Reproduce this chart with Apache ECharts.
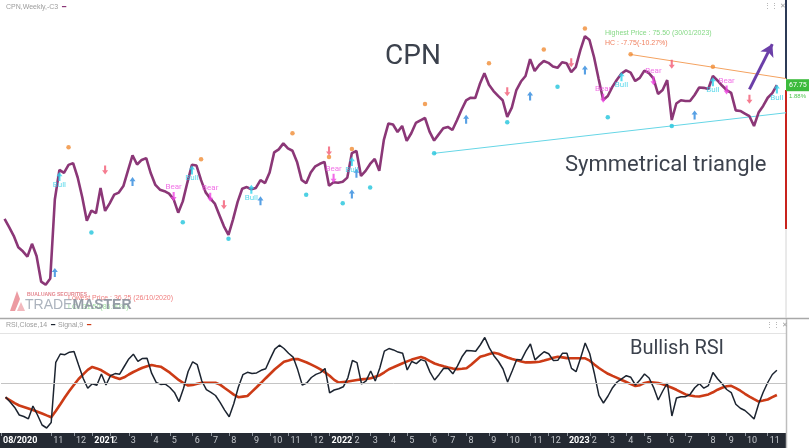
<!DOCTYPE html>
<html>
<head>
<meta charset="utf-8">
<script src="https://cdn.jsdelivr.net/npm/echarts@6/dist/echarts.min.js"></script>
<style>
html, body { margin: 0; padding: 0; background: #fff; }
#chart { width: 809px; height: 448px; }
</style>
</head>
<body>
<div id="chart"></div>
<script>
// weekly bars, first category is 2020-08-14
const weeks = []
for (let i = 0; i < 173; i++) {
  const d = new Date(Date.UTC(2020, 7, 14 + i * 7))
  weeks.push(d.toISOString().slice(0, 10))
}

// CPN weekly close, weeks 1..170
const price = [
  46.65, 45.33, 43.97, 42.16, 41.53, 40.68, 42.71, 40.79, 36.75, 36.25,
  37.23, 49.70, 54.38, 53.91, 55.17, 55.45, 53.18, 50.07, 46.34, 47.95,
  47.54, 51.54, 47.91, 49.10, 50.47, 50.80, 51.82, 54.28, 56.66, 55.23,
  55.95, 56.24, 53.84, 52.01, 51.26, 51.02, 50.64, 49.73, 47.63, 49.41,
  52.38, 55.18, 55.07, 52.76, 50.83, 49.89, 49.07, 47.27, 45.47, 44.13,
  46.57, 49.33, 51.41, 51.67, 51.32, 51.54, 52.76, 52.30, 53.98, 57.14,
  57.62, 58.57, 57.77, 57.40, 55.64, 52.80, 52.28, 53.98, 54.95, 55.34,
  55.65, 51.86, 52.44, 52.35, 52.52, 53.16, 57.03, 57.37, 53.43, 54.22,
  55.32, 56.11, 54.22, 59.11, 61.71, 61.55, 60.37, 61.31, 58.95, 60.17,
  61.79, 62.21, 62.57, 60.42, 59.01, 59.99, 60.95, 61.17, 60.68, 62.21,
  63.88, 65.35, 65.77, 65.73, 67.93, 69.62, 67.82, 66.83, 66.07, 65.37,
  62.75, 64.21, 66.99, 68.33, 69.20, 71.87, 69.98, 70.93, 71.56, 71.28,
  70.69, 70.49, 71.37, 71.21, 69.83, 70.61, 73.29, 75.50, 74.87, 72.16,
  68.72, 65.41, 66.04, 67.49, 68.61, 69.59, 70.08, 69.73, 68.41, 68.90,
  70.06, 69.65, 68.83, 66.36, 66.99, 68.56, 62.26, 64.86, 65.37, 65.26,
  65.26, 66.20, 67.38, 67.33, 67.15, 69.20, 68.50, 67.70, 66.99, 66.55,
  63.77, 63.68, 63.28, 62.86, 61.31, 63.43, 64.48, 65.77, 66.50, 67.75
]

// RSI(14) and its signal(9), weeks 1..170
const rsi = [
  42.44, 39.79, 36.82, 32.72, 31.91, 30.67, 37.58, 32.72, 27.32, 25.70,
  28.67, 61.18, 65.66, 65.28, 66.63, 67.01, 59.72, 52.54, 47.14, 49.62,
  48.76, 54.86, 48.92, 54.00, 55.08, 54.75, 58.91, 63.01, 65.55, 61.66,
  63.28, 63.39, 55.29, 50.32, 49.24, 49.41, 47.57, 44.92, 39.96, 47.19,
  56.21, 61.45, 59.88, 51.08, 46.44, 44.98, 43.25, 39.58, 35.37, 31.80,
  38.77, 47.73, 54.48, 55.78, 55.13, 55.45, 56.86, 57.67, 63.18, 68.31,
  70.41, 68.63, 66.04, 63.99, 57.24, 48.92, 50.00, 52.97, 54.64, 55.62,
  57.83, 44.71, 46.22, 46.87, 47.95, 52.81, 62.15, 61.00, 49.46, 51.13,
  56.48, 51.08, 58.10, 67.23, 68.58, 67.87, 66.69, 66.04, 57.02, 61.61,
  60.48, 62.64, 61.83, 55.89, 51.62, 54.64, 57.94, 57.78, 54.97, 59.13,
  64.15, 67.55, 67.44, 67.12, 70.52, 74.57, 68.95, 64.74, 61.61, 57.56,
  50.54, 56.48, 62.74, 62.37, 67.20, 71.06, 62.50, 64.80, 66.90, 65.77,
  62.20, 62.26, 66.04, 66.04, 57.88, 56.10, 63.50, 71.60, 65.77, 55.29,
  43.36, 39.20, 42.98, 47.46, 50.54, 52.27, 53.94, 53.08, 48.92, 51.62,
  54.86, 52.70, 47.52, 40.82, 45.68, 50.00, 32.18, 41.90, 42.60, 42.60,
  43.90, 47.41, 49.68, 47.19, 48.60, 55.67, 52.32, 49.57, 46.49, 44.82,
  38.55, 36.34, 35.15, 32.99, 30.56, 38.66, 44.98, 50.27, 54.59, 56.86
]
const signal = [
  42.17, 40.66, 39.15, 37.85, 37.04, 36.23, 35.37, 34.50, 33.53, 32.50,
  31.48, 34.93, 38.55, 42.28, 45.79, 49.03, 52.16, 54.64, 57.07, 58.69,
  57.88, 56.86, 55.35, 53.89, 53.02, 52.21, 53.08, 54.59, 55.94, 57.13,
  58.26, 59.07, 59.67, 59.23, 58.80, 57.18, 55.56, 53.56, 51.51, 49.95,
  48.65, 48.92, 49.62, 50.16, 50.16, 50.16, 50.16, 49.14, 47.30, 45.52,
  43.74, 42.33, 42.66, 42.98, 45.36, 47.73, 50.11, 52.59, 55.02, 57.40,
  59.45, 61.50, 62.20, 62.91, 62.91, 61.99, 61.07, 59.88, 58.69, 57.34,
  55.72, 53.94, 51.67, 50.22, 50.49, 50.76, 51.19, 51.62, 51.94, 52.21,
  52.59, 53.40, 54.21, 55.78, 57.45, 58.48, 59.56, 60.64, 61.66, 62.64,
  63.34, 63.99, 63.18, 61.77, 60.53, 59.77, 59.07, 58.42, 57.78, 57.51,
  57.72, 57.94, 59.83, 61.99, 64.15, 64.90, 65.66, 66.36, 65.82, 64.74,
  63.82, 62.96, 62.26, 61.66, 61.12, 61.12, 61.29, 61.45, 62.10, 62.85,
  63.61, 64.15, 63.82, 63.45, 63.34, 63.34, 63.34, 63.34, 62.04, 59.99,
  58.10, 56.48, 54.97, 53.83, 52.75, 51.62, 50.54, 49.41, 48.33, 48.81,
  50.05, 50.54, 50.27, 49.95, 49.30, 48.38, 47.46, 46.33, 45.09, 43.84,
  43.25, 42.87, 42.71, 43.30, 43.84, 44.98, 46.38, 47.46, 48.22, 48.49,
  47.25, 45.84, 44.17, 42.66, 41.25, 39.96, 40.50, 41.09, 42.33, 43.52
]

// signal marks: [week index, price]
const swingHigh = [[15, 57.95], [44, 56.07], [64, 60.16], [72, 56.43], [77, 57.69], [93, 64.78], [107, 71.2], [119, 73.4], [128, 76.71], [138, 72.62], [156, 70.66]]
const swingLow = [[20, 44.5], [40, 46.13], [50, 43.5], [67, 50.44], [75, 49.13], [81, 51.59], [95, 57.01], [111, 61.9], [122, 67.51], [133, 62.69], [147, 61.31]]
const buyArrow = [[12, 38.19], [29, 52.53], [57, 49.49], [77, 50.59], [78, 53.86], [102, 62.37], [116, 66.04], [128, 70.14], [152, 63.05]]
const sellArrow = [[23, 54.38], [49, 48.86], [72, 57.37], [111, 66.72], [125, 71.29], [147, 71.04], [164, 65.52]]
const bullSignal = [[13, 53.32], [42, 54.38], [55, 51.34], [77, 55.69], [136, 69.09], [156, 68.3], [170, 67.15]]
const bearSignal = [[38, 50.17], [46, 50.07], [73, 53.07], [132, 65.68], [143, 68.45], [159, 66.99]]

// triangle lines and breakout arrow
const supportLine = [[95, 57.0], [172, 63.4]]
const resistLine = [[138, 72.6], [172, 68.8]]
const breakoutArrow = [[164, 67.1], [169, 74.24]]

const lastPrice = price[price.length - 1]
const lastChange = ((lastPrice / price[price.length - 2] - 1) * 100).toFixed(2)

const upArrow = 'path://M4,0L8,4.5L5.4,4.5L5.4,10L2.6,10L2.6,4.5L0,4.5Z'
const downArrow = 'path://M2.6,0L5.4,0L5.4,5.5L8,5.5L4,10L0,5.5L2.6,5.5Z'

const DAY = 86400000
// week whose Friday is nearest to the 1st of a month (Sep/Oct 2020 left out)
function monthStart(index) {
  if (index === 0) return true
  if (index > 170) return false
  const t = Date.parse(weeks[index])
  const a = new Date(t + 3 * DAY)
  const b = new Date(t - 4 * DAY)
  if (a.getUTCMonth() === b.getUTCMonth()) return false
  const ym = a.toISOString().slice(0, 7)
  return ym !== '2020-09' && ym !== '2020-10'
}

const chart = echarts.init(document.getElementById('chart'))
chart.setOption({
  animation: false,
  textStyle: { fontFamily: 'Roboto, "Noto Sans", sans-serif' },
  grid: [
    { left: 0, right: 23, top: 0, height: 318 },
    { left: 0, right: 23, top: 333, height: 100 }
  ],
  xAxis: [
    { type: 'category', gridIndex: 0, data: weeks, boundaryGap: false, show: false },
    {
      type: 'category',
      gridIndex: 1,
      data: weeks,
      boundaryGap: false,
      axisLine: { show: false },
      axisTick: {
        show: true,
        interval: (index) => monthStart(index),
        length: 3,
        lineStyle: { color: '#8d939c' }
      },
      axisLabel: {
        interval: (index) => monthStart(index),
        align: 'left',
        margin: 3,
        padding: [0, 0, 0, 2],
        formatter: function(value, index) {
          if (index === 0) return '{y|' + value.slice(5, 7) + '/' + value.slice(0, 4) + '}'
          const a = new Date(Date.parse(value) + 3 * DAY)
          const m = a.getUTCMonth() + 1
          if (m === 1) return '{y|' + a.getUTCFullYear() + '}'
          return '{m|' + m + '}'
        },
        rich: {
          y: { color: '#ffffff', fontSize: 9, fontWeight: 'bold' },
          m: { color: '#c4c7cc', fontSize: 9 }
        }
      },
      splitLine: { show: false }
    }
  ],
  yAxis: [
    { type: 'value', gridIndex: 0, min: 31, max: 81.2, show: false },
    { type: 'value', gridIndex: 1, min: 23, max: 77, show: false }
  ],
  series: [
    {
      name: 'CPN',
      type: 'line',
      xAxisIndex: 0,
      yAxisIndex: 0,
      data: price.map((v, i) => [i + 1, v]),
      symbol: 'none',
      z: 3,
      lineStyle: { color: '#8b3777', width: 2.6 },
      markLine: {
        silent: true,
        symbol: 'none',
        lineStyle: { color: 'rgba(0,0,0,0)', width: 1 },
        label: {
          show: true,
          position: 'end',
          distance: 0,
          formatter: lastPrice.toFixed(2),
          color: '#fff',
          fontSize: 7,
          backgroundColor: '#3dbb3d',
          padding: [3, 6, 2, 3]
        },
        data: [{ yAxis: lastPrice }]
      }
    },
    {
      type: 'line',
      data: supportLine,
      symbol: 'none',
      z: 2,
      lineStyle: { color: '#66d6e6', width: 1 }
    },
    {
      type: 'line',
      data: resistLine,
      symbol: 'none',
      z: 2,
      lineStyle: { color: '#f4a260', width: 1 },
      markLine: {
        silent: true,
        symbol: ['none', 'arrow'],
        symbolSize: [11, 12],
        label: { show: false },
        lineStyle: { color: '#6b3fa8', width: 3, type: 'solid' },
        data: [[
          { coord: [weeks[breakoutArrow[0][0]], breakoutArrow[0][1]] },
          { coord: [weeks[breakoutArrow[1][0]], breakoutArrow[1][1]] }
        ]]
      }
    },
    { type: 'scatter', data: swingHigh, symbolSize: 4.5, z: 4, itemStyle: { color: '#f08c35' } },
    { type: 'scatter', data: swingLow, symbolSize: 4.5, z: 4, itemStyle: { color: '#22c4dc' } },
    { type: 'scatter', data: buyArrow, symbol: upArrow, symbolSize: [6, 9], z: 4, itemStyle: { color: '#2d88dd' } },
    { type: 'scatter', data: sellArrow, symbol: downArrow, symbolSize: [6, 9], z: 4, itemStyle: { color: '#f25b74' } },
    {
      type: 'scatter',
      data: bullSignal,
      symbol: upArrow,
      symbolSize: [6, 9],
      z: 4,
      itemStyle: { color: '#2cd5ee' },
      label: { show: true, position: 'bottom', distance: 0, formatter: 'Bull', color: '#35cfe6', fontSize: 8 }
    },
    {
      type: 'scatter',
      data: bearSignal,
      symbol: downArrow,
      symbolSize: [6, 9],
      z: 4,
      itemStyle: { color: '#ef45e2' },
      label: { show: true, position: 'top', distance: 1, formatter: 'Bear', color: '#ee4ee0', fontSize: 8 }
    },
    {
      name: 'RSI',
      type: 'line',
      xAxisIndex: 1,
      yAxisIndex: 1,
      data: rsi.map((v, i) => [i + 1, v]),
      symbol: 'none',
      z: 3,
      lineStyle: { color: '#1c2430', width: 1.5 },
      markLine: {
        silent: true,
        symbol: 'none',
        label: { show: false },
        lineStyle: { color: '#c4c4c4', width: 1, type: 'solid' },
        data: [{ yAxis: 50 }]
      }
    },
    {
      name: 'Signal',
      type: 'line',
      xAxisIndex: 1,
      yAxisIndex: 1,
      data: signal.map((v, i) => [i + 1, v]),
      symbol: 'none',
      z: 2,
      lineStyle: { color: '#cc3b16', width: 2.6 }
    }
  ],
  graphic: [
    { type: 'rect', z: -10, silent: true, shape: { x: 0, y: 433, width: 786, height: 15 }, style: { fill: '#252a33' } },
    { type: 'line', silent: true, shape: { x1: 0, y1: 318.5, x2: 809, y2: 318.5 }, style: { stroke: '#a8a8a8', lineWidth: 1.5 } },
    { type: 'line', silent: true, shape: { x1: 0, y1: 333.5, x2: 786, y2: 333.5 }, style: { stroke: '#e3e3e3', lineWidth: 1 } },
    { type: 'line', silent: true, shape: { x1: 786.5, y1: 319, x2: 786.5, y2: 448 }, style: { stroke: '#bdbdbd', lineWidth: 1.5 } },
    { type: 'line', silent: true, shape: { x1: 786, y1: 0, x2: 786, y2: 79 }, style: { stroke: '#2c3a56', lineWidth: 2 } },
    { type: 'line', silent: true, shape: { x1: 786, y1: 90, x2: 786, y2: 229 }, style: { stroke: '#c8231d', lineWidth: 2 } },
    { type: 'line', silent: true, shape: { x1: 786, y1: 229, x2: 786, y2: 318 }, style: { stroke: '#d4d4d4', lineWidth: 1 } },
    {
      type: 'text', x: 6, y: 7,
      style: {
        text: '{a|CPN,Weekly,-C3} {b|━}',
        verticalAlign: 'middle',
        rich: { a: { fill: '#9c9c9c', fontSize: 7 }, b: { fill: '#8b3777', fontSize: 7 } }
      }
    },
    { type: 'text', x: 764, y: 6, style: { text: '⋮⋮ ✕', fill: '#a0a0a0', fontSize: 7, verticalAlign: 'middle' } },
    {
      type: 'text', x: 6, y: 325.5,
      style: {
        text: '{a|RSI,Close,14} {b|━} {a|Signal,9} {c|━}',
        verticalAlign: 'middle',
        rich: { a: { fill: '#9c9c9c', fontSize: 7 }, b: { fill: '#1c2430', fontSize: 7 }, c: { fill: '#cc3b16', fontSize: 7 } }
      }
    },
    { type: 'text', x: 766, y: 325.5, style: { text: '⋮⋮ ✕', fill: '#a0a0a0', fontSize: 7, verticalAlign: 'middle' } },
    { type: 'text', x: 385, y: 57, style: { text: 'CPN', fill: '#3c424d', fontSize: 28, fontFamily: 'Roboto', verticalAlign: 'middle' } },
    { type: 'text', x: 565, y: 165, style: { text: 'Symmetrical triangle', fill: '#3c424d', fontSize: 22, fontFamily: 'Roboto', verticalAlign: 'middle' } },
    { type: 'text', x: 630, y: 349, style: { text: 'Bullish RSI', fill: '#3c424d', fontSize: 20, fontFamily: 'Roboto', verticalAlign: 'middle' } },
    { type: 'text', x: 605, y: 33, style: { text: 'Highest Price : 75.50 (30/01/2023)', fill: '#86d986', fontSize: 7, verticalAlign: 'middle' } },
    { type: 'text', x: 605, y: 43, style: { text: 'HC : -7.75(-10.27%)', fill: '#f08060', fontSize: 7, verticalAlign: 'middle' } },
    { type: 'text', x: 789, y: 96, style: { text: lastChange + '%', fill: '#4fc54f', fontSize: 6, verticalAlign: 'middle' } },
    { type: 'text', x: 68, y: 298, style: { text: 'Lowest Price : 36.25 (26/10/2020)', fill: '#f07e7e', fontSize: 7, verticalAlign: 'middle' } },
    { type: 'text', x: 68, y: 307.5, style: { text: 'LC : 31.50(86.90%)', fill: '#9ee09e', fontSize: 7, verticalAlign: 'middle' } },
    {
      type: 'group',
      silent: true,
      children: [
        { type: 'polygon', shape: { points: [[10, 311], [17, 291], [20, 299], [15, 311]] }, style: { fill: '#e98a92', opacity: 0.85 } },
        { type: 'polygon', shape: { points: [[17, 311], [21, 302], [25, 311]] }, style: { fill: '#e98a92', opacity: 0.6 } },
        { type: 'text', x: 27, y: 294.5, style: { text: 'BUALUANG SECURITIES', fill: '#e4868e', fontSize: 5, fontWeight: 'bold', verticalAlign: 'middle' } },
        {
          type: 'text', x: 25, y: 305.5,
          style: {
            text: '{t|TRADE}{m|MASTER}',
            verticalAlign: 'middle',
            opacity: 0.9,
            rich: {
              t: { fill: '#a3abb6', fontSize: 14 },
              m: { fill: '#8a929d', fontSize: 14, fontWeight: 'bold' }
            }
          }
        }
      ]
    }
  ]
})
</script>
</body>
</html>
